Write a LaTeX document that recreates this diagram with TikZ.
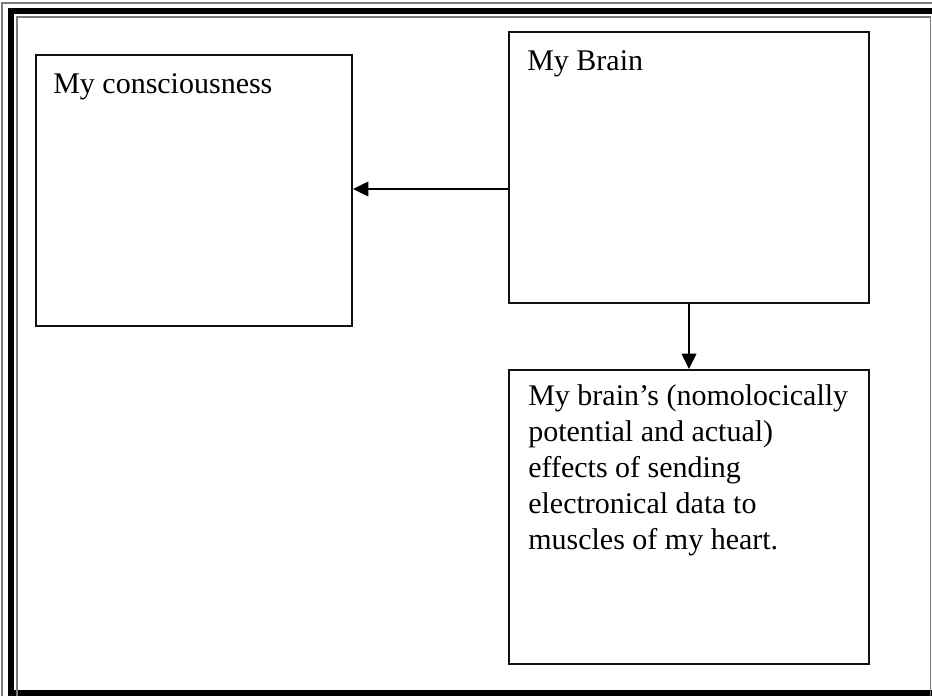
\documentclass[tikz,border=0pt]{standalone}
\usepackage{fontspec}
\setmainfont{Liberation Serif}
\usepackage{xcolor}
\usepackage{tikz}
\usetikzlibrary{
  arrows.meta,
  positioning
}
\definecolor{frameGray}{HTML}{7A7A7A}
\definecolor{boxStroke}{HTML}{111111}
\tikzset{
  box/.style={
    rectangle, draw=boxStroke, line width=1.5pt, fill=white,
    inner sep=0pt, anchor=north west
  },
  txt/.style={
    anchor=base west, inner sep=0pt, align=left,
    font=\fontsize{22.5}{27}\selectfont
  },
  arr/.style={-{Triangle[length=11.5pt,width=11pt]},
    line width=1.1pt, draw=black}
}

\begin{document}
\begin{tikzpicture}[x=0.75pt, y=-0.75pt]

    \useasboundingbox (0,0) rectangle (932,696);
    \clip (0,0) rectangle (932,696);

    % page frame
    \draw[frameGray, line width=0.9pt] (2,3) rectangle (960,720);
    \draw[black, line width=5pt] (11,11) rectangle (960,693);
    \draw[frameGray, line width=0.9pt] (17,17) rectangle (930.5,720);

    \node[box, minimum width=237pt, minimum height=203.25pt] (consc) at (35,54) {};
    \node[box, minimum width=270pt, minimum height=203.25pt] (brain) at (508,31) {};
    \node[box, minimum width=270pt, minimum height=220.5pt] (effect) at (508,369) {};

    \node[txt] (conscLbl) at (53,93) {My consciousness};
    \node[txt] (brainLbl) at (527,70) {My Brain};
    \node[txt, anchor=north west] (effectLbl) at (528,384)
      {My brain’s (nomolocically\\potential and actual)\\effects of sending\\electronical data to\\muscles of my heart.};

    \draw[arr] (brain.west |- 0,189) -- (consc.east |- 0,189);
    \draw[arr] (brain.south -| 689,0) -- (effect.north -| 689,0);

\end{tikzpicture}
\end{document}
